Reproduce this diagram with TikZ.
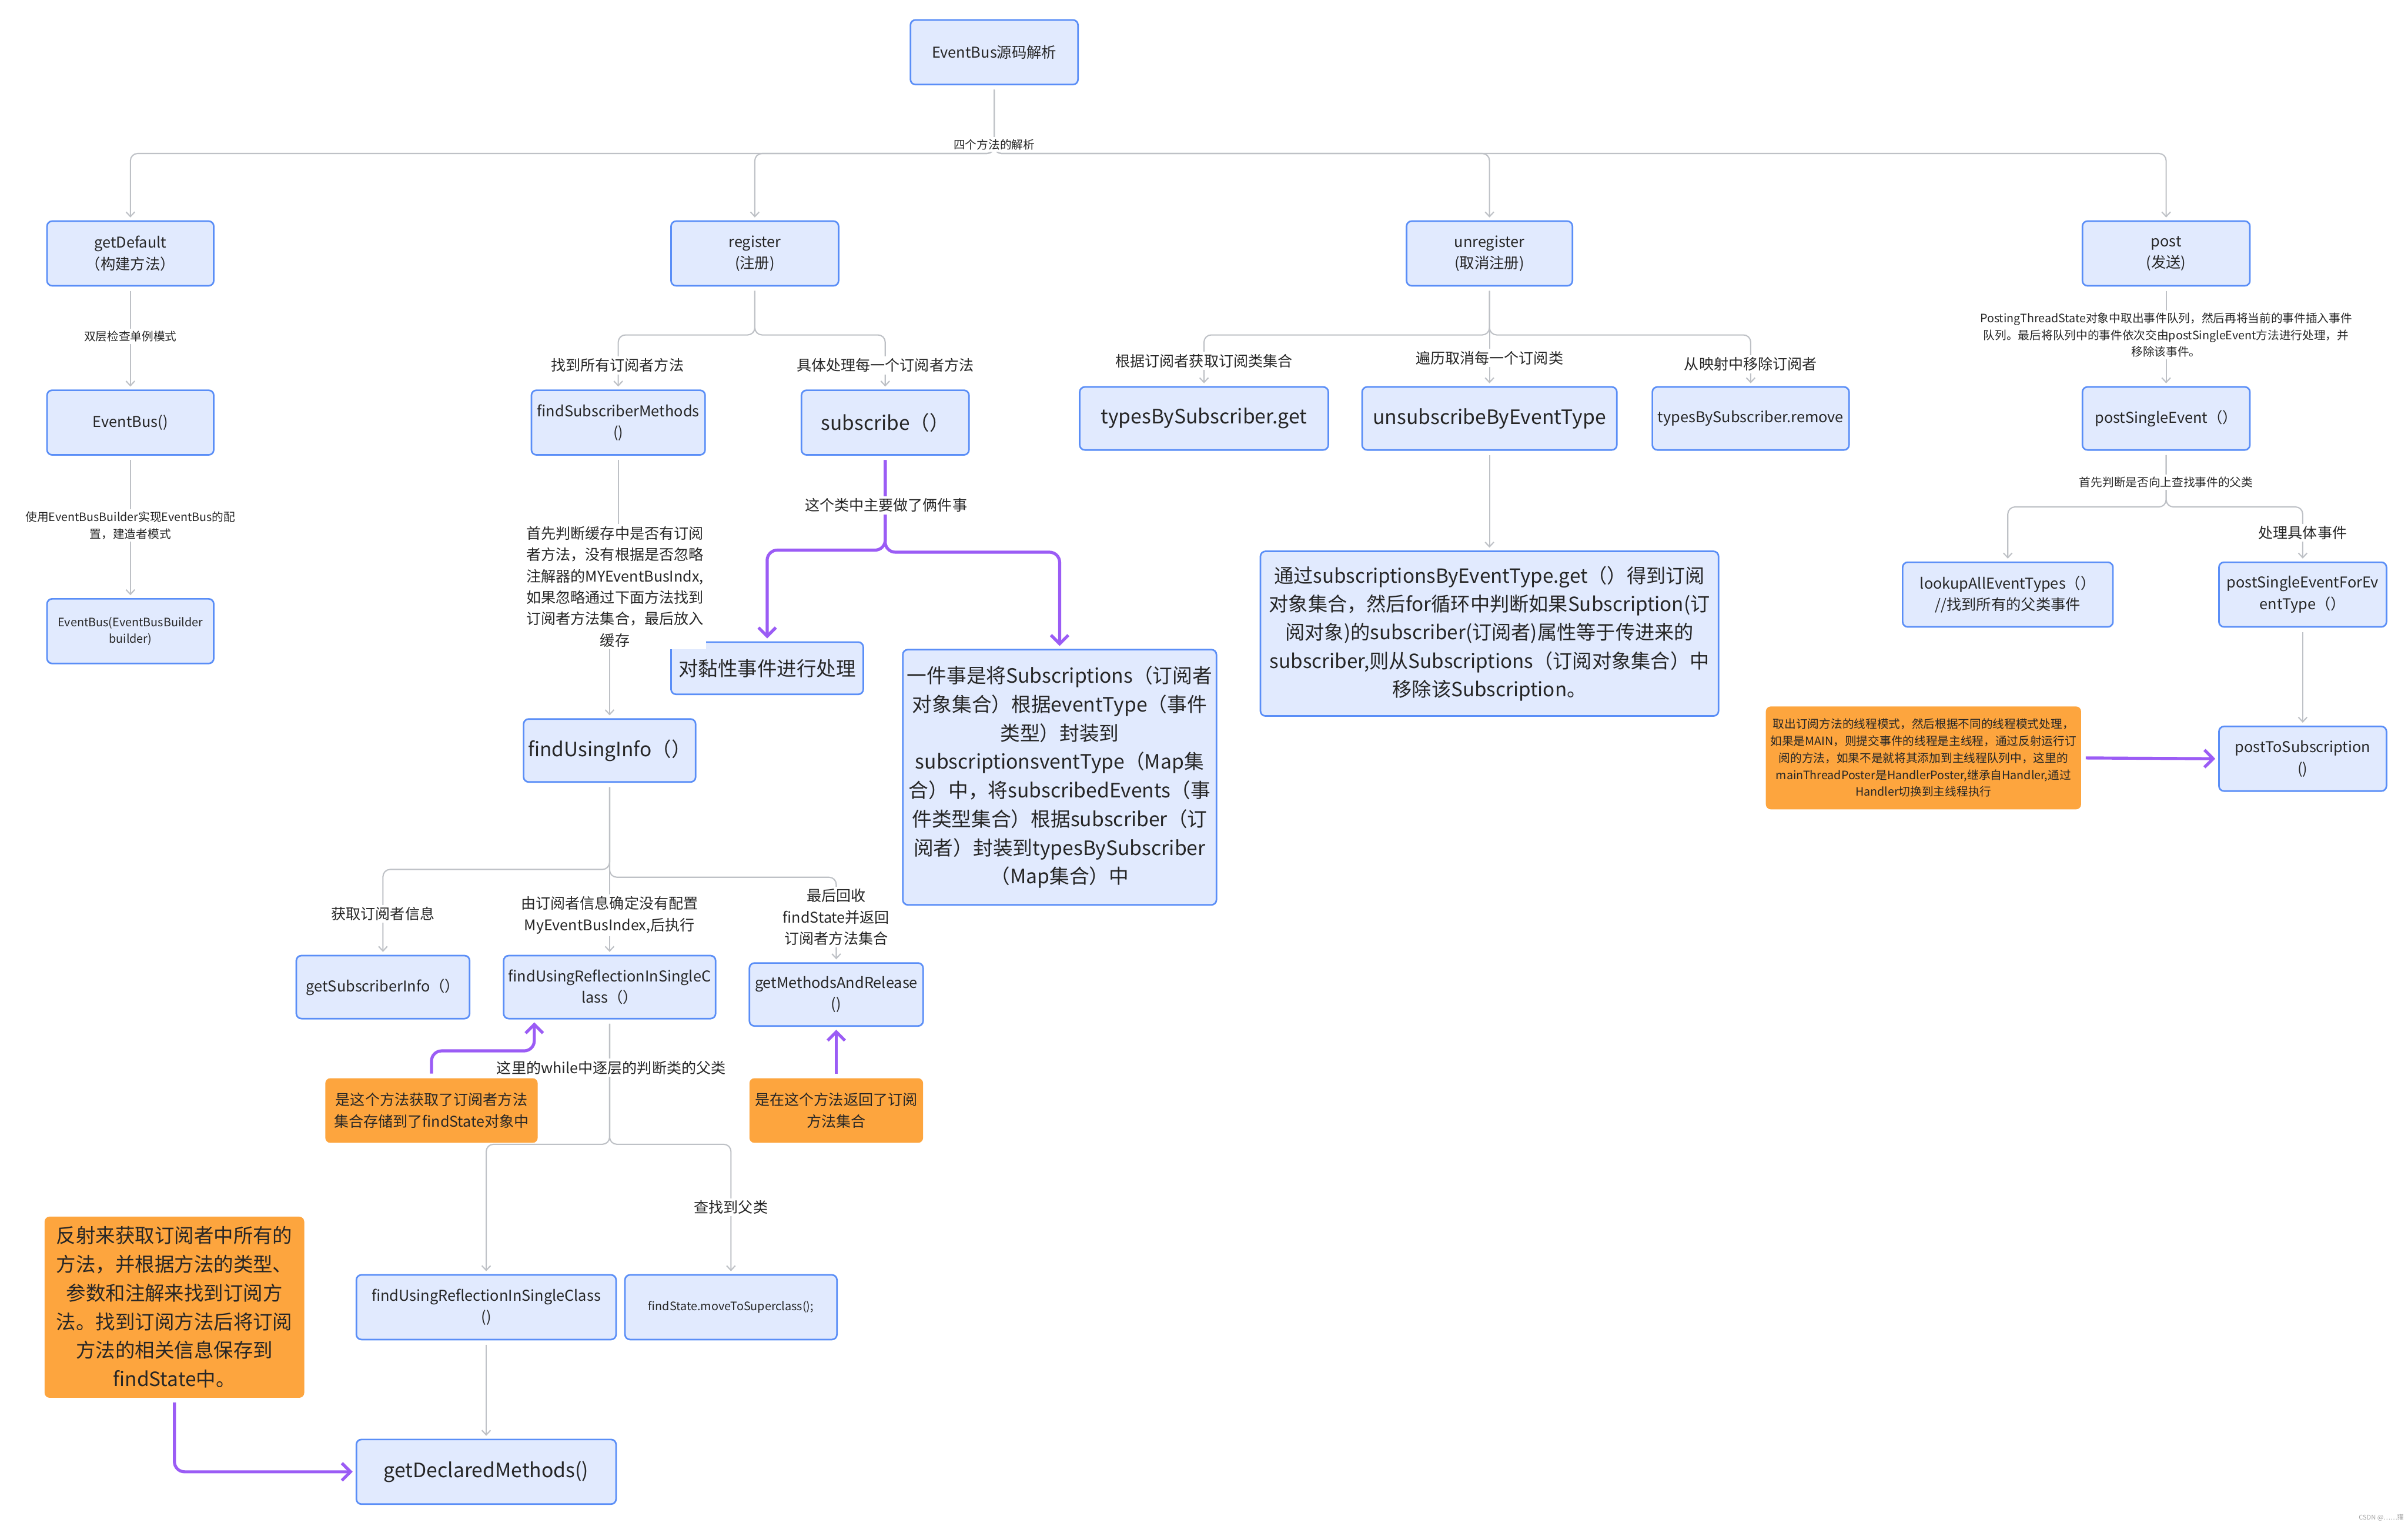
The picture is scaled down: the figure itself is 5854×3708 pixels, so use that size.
\documentclass[tikz,border=0pt]{standalone}
\usepackage{fontspec}
\newfontfamily\cjk{Noto Sans CJK SC}
\usetikzlibrary{arrows.meta}
\definecolor{boxfill}{HTML}{E1EAFE}
\definecolor{boxline}{HTML}{5A8EF7}
\definecolor{gline}{HTML}{BEC1C6}
\definecolor{purp}{HTML}{9B5CF5}
\definecolor{orng}{HTML}{FDA53E}
\definecolor{txt}{HTML}{262626}
\newcommand\myfS{\fontsize{8pt}{11.7pt}\selectfont}
\newcommand\myfE{\fontsize{8.05pt}{11.5pt}\selectfont}
\newcommand\myfL{\fontsize{10.2pt}{14.8pt}\selectfont}
\newcommand\myfN{\fontsize{10.3pt}{14.8pt}\selectfont}
\newcommand\myfM{\fontsize{13.6pt}{19.8pt}\selectfont}
\newcommand\myfB{\fontsize{13.7pt}{19.8pt}\selectfont}
\newcommand\myfC{\fontsize{13.5pt}{19.7pt}\selectfont}
\pgfdeclarelayer{back}\pgfdeclarelayer{lines}\pgfsetlayers{back,lines,main}
\tikzset{
  box/.style={draw=boxline, fill=boxfill, line width=1.1pt, rounded corners=3.5pt, align=center, inner sep=0pt, text=txt, font=\cjk\myfN},
  obox/.style={fill=orng, rounded corners=3.5pt, align=center, inner sep=0pt, text=txt, font=\cjk\myfL},
  wh/.style 2 args={minimum width=#1, minimum height=#2},
  lbl/.style={fill=white, inner sep=1.5pt, align=center, text=txt, font=\cjk\myfL},
  slbl/.style={lbl, font=\cjk\myfS},
  conn/.style={draw=gline, line width=0.85pt, rounded corners=5pt, shorten <=3pt, shorten >=2pt, -{Straight Barb[length=3.2pt,width=6pt]}},
  plink/.style={draw=purp, line width=2.1pt, rounded corners=7pt, shorten <=3pt, shorten >=2pt, -{Straight Barb[length=6pt,width=12pt]}}
}
\begin{document}
\begin{tikzpicture}[x=0.01cm,y=-0.01cm]
\begin{pgfonlayer}{back}
\fill[white] (0,0) rectangle (5854,3708);
\end{pgfonlayer}
\useasboundingbox (0,0) rectangle (5854,3708);

% ---- boxes ----
\node[box, wh={4.07cm}{1.57cm}] (root) at (2417,127) {EventBus源码解析};
\node[box, wh={4.05cm}{1.57cm}] (gd) at (317,616) {getDefault\\（构建方法）};
\node[box, wh={4.05cm}{1.57cm}] (eb) at (317,1027) {EventBus()};
\node[box, wh={4.05cm}{1.57cm}, font=\cjk\myfE] (ebb) at (317,1534) {EventBus(EventBusBuilder\\builder)};
\node[box, wh={4.07cm}{1.57cm}] (reg) at (1835,616) {register\\(注册)};
\node[box, wh={4.22cm}{1.57cm}] (fsm) at (1503,1027) {findSubscriberMethods\\()};
\node[box, wh={4.07cm}{1.57cm}, font=\cjk\myfM] (sub) at (2152,1027) {subscribe（）};
\node[box, wh={4.67cm}{1.27cm}, font=\cjk\myfM] (sticky) at (1865,1624) {对黏性事件进行处理};
\node[box, wh={7.62cm}{6.20cm}, font=\cjk\myfB] (big1) at (2576,1889) {一件事是将Subscriptions（订阅者\\对象集合）根据eventType（事件\\类型）封装到\\subscriptionsventType（Map集\\合）中，将subscribedEvents（事\\件类型集合）根据subscriber（订\\阅者）封装到typesBySubscriber\\（Map集合）中};
\node[box, wh={4.18cm}{1.53cm}, font=\cjk\myfM] (fui) at (1482,1824) {findUsingInfo（）};
\node[box, wh={4.21cm}{1.53cm}] (gsi) at (931,2399) {getSubscriberInfo（）};
\node[box, wh={5.15cm}{1.53cm}] (furc) at (1482,2399) {findUsingReflectionInSingleC\\lass（）};
\node[box, wh={4.22cm}{1.53cm}] (gmr) at (2033,2417) {getMethodsAndRelease\\()};
\node[obox, wh={5.16cm}{1.57cm}] (or1) at (1049,2699) {是这个方法获取了订阅者方法\\集合存储到了findState对象中};
\node[obox, wh={4.22cm}{1.57cm}] (or2) at (2033,2699) {是在这个方法返回了订阅\\方法集合};
\node[box, wh={6.31cm}{1.57cm}] (furc2) at (1182,3177) {findUsingReflectionInSingleClass\\()};
\node[box, wh={5.15cm}{1.57cm}, font=\cjk\myfE] (mts) at (1777,3177) {findState.moveToSuperclass();};
\node[box, wh={6.31cm}{1.57cm}, font=\cjk\myfB] (gdm) at (1182,3577) {getDeclaredMethods()};
\node[obox, wh={6.31cm}{4.40cm}, font=\cjk\myfM] (or3) at (424,3177) {反射来获取订阅者中所有的\\方法，并根据方法的类型、\\参数和注解来找到订阅方\\法。找到订阅方法后将订阅\\方法的相关信息保存到\\findState中。};
\node[box, wh={4.03cm}{1.57cm}] (unreg) at (3621,616) {unregister\\(取消注册)};
\node[box, wh={6.04cm}{1.53cm}, font=\cjk\myfB] (tbsg) at (2927,1017) {typesBySubscriber.get};
\node[box, wh={6.19cm}{1.53cm}, font=\cjk\myfB] (ubet) at (3621,1017) {unsubscribeByEventType};
\node[box, wh={4.78cm}{1.53cm}] (tbsr) at (4256,1017) {typesBySubscriber.remove};
\node[box, wh={11.13cm}{4.00cm}, font=\cjk\myfC] (big2) at (3621,1540) {通过subscriptionsByEventType.get（）得到订阅\\对象集合，然后for循环中判断如果Subscription(订\\阅对象)的subscriber(订阅者)属性等于传进来的\\subscriber,则从Subscriptions（订阅对象集合）中\\移除该Subscription。};
\node[box, wh={4.07cm}{1.57cm}] (post) at (5266,616) {post\\(发送)};
\node[box, wh={4.07cm}{1.53cm}] (pse) at (5266,1017) {postSingleEvent（）};
\node[box, wh={5.11cm}{1.57cm}] (laet) at (4881,1445) {lookupAllEventTypes（）\\//找到所有的父类事件};
\node[box, wh={4.07cm}{1.57cm}] (psefe) at (5598,1445) {postSingleEventForEv\\entType（）};
\node[box, wh={4.07cm}{1.57cm}] (pts) at (5598,1844) {postToSubscription\\()};
\node[obox, wh={7.66cm}{2.50cm}, font=\cjk\myfS] (or4) at (4676,1842) {取出订阅方法的线程模式，然后根据不同的线程模式处理，\\如果是MAIN，则提交事件的线程是主线程，通过反射运行订\\阅的方法，如果不是就将其添加到主线程队列中，这里的\\mainThreadPoster是HandlerPoster,继承自Handler,通过\\Handler切换到主线程执行};

% ---- labels ----
\node[slbl] (l0) at (2417,351) {四个方法的解析};
\node[slbl] (l1) at (317,818) {双层检查单例模式};
\node[slbl] (l2) at (317,1277) {使用EventBusBuilder实现EventBus的配\\置，建造者模式};
\node[lbl] (l3) at (1501,888) {找到所有订阅者方法};
\node[lbl] (l4) at (2152,888) {具体处理每一个订阅者方法};
\node[lbl] (l5) at (1495,1426) {首先判断缓存中是否有订阅\\者方法，没有根据是否忽略\\注解器的MYEventBusIndx,\\如果忽略通过下面方法找到\\订阅者方法集合，最后放入\\缓存};
\node[lbl] (l6) at (2154,1228) {这个类中主要做了俩件事};
\node[lbl] (l7) at (931,2221) {获取订阅者信息};
\node[lbl] (l8) at (1482,2224) {由订阅者信息确定没有配置\\MyEventBusIndex,后执行};
\node[lbl] (l9) at (2033,2229) {最后回收\\findState并返回\\订阅者方法集合};
\node[lbl] (l10) at (1486,2595) {这里的while中逐层的判断类的父类};
\node[lbl] (l11) at (1777,2934) {查找到父类};
\node[lbl] (l12) at (2927,877) {根据订阅者获取订阅类集合};
\node[lbl] (l13) at (3621,870) {遍历取消每一个订阅类};
\node[lbl] (l14) at (4256,885) {从映射中移除订阅者};
\node[slbl] (l15) at (5266,814) {PostingThreadState对象中取出事件队列，然后再将当前的事件插入事件\\队列。最后将队列中的事件依次交由postSingleEvent方法进行处理，并\\移除该事件。};
\node[slbl] (l16) at (5266,1172) {首先判断是否向上查找事件的父类};
\node[lbl] (l17) at (5598,1295) {处理具体事件};
\node[font=\cjk\fontsize{4.5pt}{5pt}\selectfont, text=gray!70, inner sep=0pt] (wm) at (5789,3689) {CSDN @……獾};

% ---- connectors ----
\begin{pgfonlayer}{lines}
\draw[conn] (root.south) |- (gd.north |- 0,373) -- (gd.north);
\draw[conn] (root.south) |- (reg.north |- 0,373) -- (reg.north);
\draw[conn] (root.south) |- (unreg.north |- 0,373) -- (unreg.north);
\draw[conn] (root.south) |- (post.north |- 0,373) -- (post.north);
\draw[conn] (gd.south) -- (eb.north);
\draw[conn] (eb.south) -- (ebb.north);
\draw[conn] (reg.south) |- (fsm.north |- 0,814) -- (fsm.north);
\draw[conn] (reg.south) |- (sub.north |- 0,814) -- (sub.north);
\draw[conn, sharp corners] (fsm.south) -- (fsm.south |- l5.center) -- (fui.north |- l5.center) -- (fui.north);
\draw[plink] (sub.south) |- (sticky.north |- 0,1337) -- (sticky.north);
\draw[plink] (sub.south) |- (big1.north |- 0,1342) -- (big1.north);
\draw[conn] (fui.south) |- (gsi.north |- 0,2113) -- (gsi.north);
\draw[conn] (fui.south) -- (furc.north);
\draw[conn] (fui.south) |- (gmr.north |- 0,2132) -- (gmr.north);
\draw[plink] (or1.north) |- ([xshift=-1.83cm]furc.south |- 0,2554) -- ([xshift=-1.83cm]furc.south);
\draw[plink] (or2.north) -- (gmr.south);
\draw[conn] (furc.south) |- (furc2.north |- 0,2781) -- (furc2.north);
\draw[conn] (furc.south) |- (mts.north |- 0,2781) -- (mts.north);
\draw[conn] (furc2.south) -- (gdm.north);
\draw[plink] (or3.south) |- (gdm.west);
\draw[conn] (unreg.south) |- (tbsg.north |- 0,814) -- (tbsg.north);
\draw[conn] (unreg.south) -- (ubet.north);
\draw[conn] (unreg.south) |- (tbsr.north |- 0,814) -- (tbsr.north);
\draw[conn] (ubet.south) -- (big2.north);
\draw[conn] (post.south) -- (pse.north);
\draw[conn] (pse.south) |- (laet.north |- 0,1232) -- (laet.north);
\draw[conn] (pse.south) |- (psefe.north |- 0,1232) -- (psefe.north);
\draw[conn] (psefe.south) -- (pts.north);
\draw[plink] (or4.east) -- (pts.west);
\end{pgfonlayer}
\end{tikzpicture}
\end{document}
